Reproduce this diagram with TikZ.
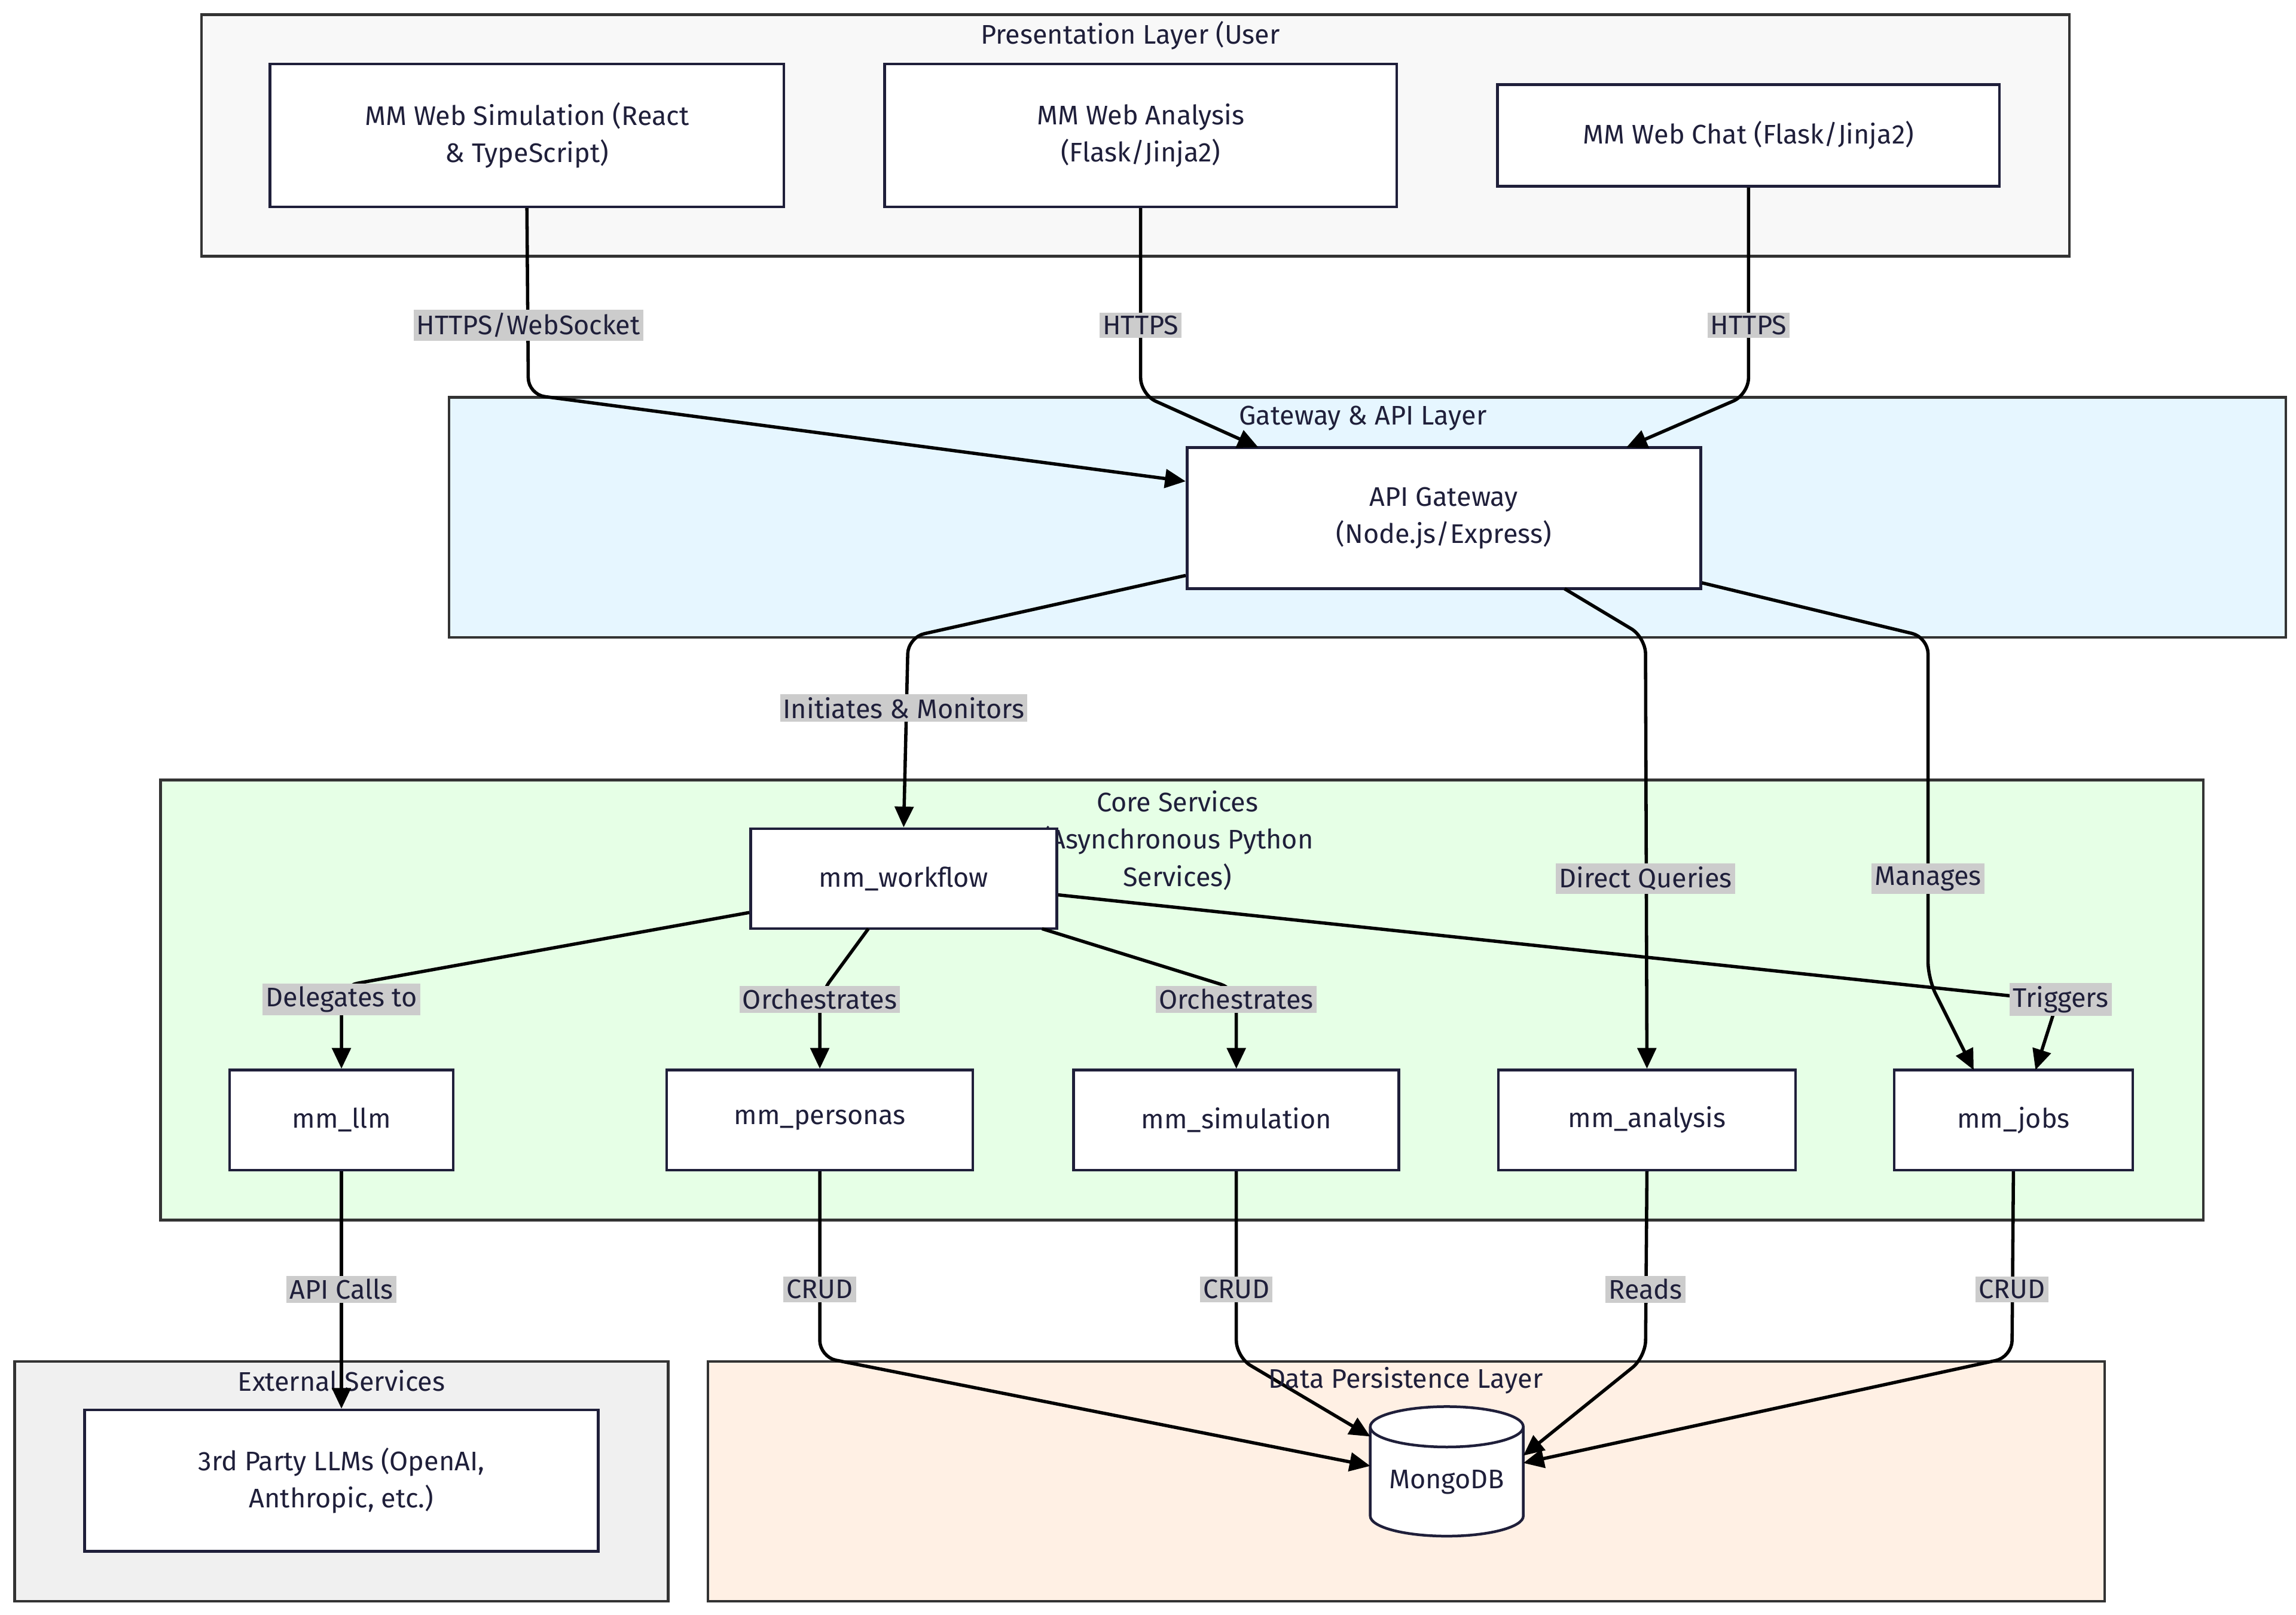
\documentclass[tikz,border=0pt]{standalone}
\usepackage{fontspec}
\setmainfont{Fira Sans}
\usetikzlibrary{positioning,shapes.geometric,arrows.meta,calc}
\definecolor{inkdark}{HTML}{1F1F3A}
\definecolor{presfill}{HTML}{F8F8F8}
\definecolor{gatefill}{HTML}{E6F6FF}
\definecolor{corefill}{HTML}{E6FFE6}
\definecolor{extfill}{HTML}{F0F0F0}
\definecolor{datafill}{HTML}{FFF0E4}
\definecolor{lblfill}{HTML}{CCCCCC}

\begin{document}
\begin{tikzpicture}[
      x=0.025cm, y=-0.025cm,
      every node/.style={font=\fontsize{13}{18}\selectfont, text=inkdark},
      layer/.style={draw=black!80, line width=1.3pt},
      svc/.style={
        rectangle,
        draw=inkdark,
        fill=white,
        line width=1.3pt,
        align=center,
        inner sep=0pt,
      },
      link/.style={-{Triangle[length=10pt,width=9pt]}, line width=1.6pt, black, rounded corners=8pt},
      tag/.style={fill=lblfill, inner sep=1.5pt},
      ]
      \useasboundingbox (0,0) rectangle (1560,1097);
      % layers
      \draw[layer, fill=presfill] (137,10) rectangle (1406,174);
      \node at (768,24) {Presentation Layer (User};
      \draw[layer, fill=gatefill] (305,270) rectangle (1553,433);
      \draw[layer, fill=corefill] (109,530) rectangle (1497,829);
      \node[align=center] at (800,571) {Core Services\\(Asynchronous Python\\Services)};
      \draw[layer, fill=extfill] (10,925) rectangle (454,1088);
      \node at (232,938) {External Services};
      \draw[layer, fill=datafill] (481,925) rectangle (1430,1088);
      % services
      \node[svc, minimum width=349*0.025cm, minimum height=97*0.025cm] (websim) at (358,92) {MM Web Simulation (React\\\& TypeScript)};
      \node[svc, minimum width=348*0.025cm, minimum height=97*0.025cm] (webana) at (775,92) {MM Web Analysis\\(Flask/Jinja2)};
      \node[svc, minimum width=341*0.025cm, minimum height=69*0.025cm] (webchat) at (1188,92) {MM Web Chat (Flask/Jinja2)};
      \node[svc, minimum width=349*0.025cm, minimum height=96*0.025cm] (gateway) at (981,352) {API Gateway\\(Node.js/Express)};
      \node[svc, minimum width=208*0.025cm, minimum height=68*0.025cm] (workflow) at (614,597) {mm\_workflow};
      \node[svc, minimum width=152*0.025cm, minimum height=68*0.025cm] (llm) at (232,761) {mm\_llm};
      \node[svc, minimum width=208*0.025cm, minimum height=68*0.025cm] (personas) at (557,761) {mm\_personas};
      \node[svc, minimum width=221*0.025cm, minimum height=68*0.025cm] (simulation) at (840,761) {mm\_simulation};
      \node[svc, minimum width=202*0.025cm, minimum height=68*0.025cm] (analysis) at (1119,761) {mm\_analysis};
      \node[svc, minimum width=162*0.025cm, minimum height=68*0.025cm] (jobs) at (1368,761) {mm\_jobs};
      \node[svc, minimum width=349*0.025cm, minimum height=96*0.025cm] (llmext) at (232,1006) {3rd Party LLMs (OpenAI,\\Anthropic, etc.)};
      \node[svc, cylinder, shape border rotate=90, aspect=0.35, minimum width=104*0.025cm, minimum height=88*0.025cm] (mongo) at (983,1007) {MongoDB};
      % connectors
      \draw[link] (websim.south) -- (359,268) -- (gateway.west |- 0,327);
      \draw[link] (webana.south) -- (775,268) -- (855,304);
      \draw[link] (webchat.south) -- (1188,268) -- (1105,304);
      \draw[link] (gateway.west |- 0,391) -- (617,433) -- (workflow.north);
      \draw[link] (1063,400) -- (1118,433) -- (analysis.north);
      \draw[link] (gateway.east |- 0,396) -- (1310,433) -- (1310,665) -- (1341,727);
      \draw[link] (workflow.west |- 0,620) -- (232,670) -- (llm.north);
      \draw[link] (590,631) -- (557,676) -- (personas.north);
      \draw[link] (708,631) -- (840,672) -- (simulation.north);
      \draw[link] (workflow.east |- 0,608) -- (1398,680) -- (1383,727);
      \draw[link] (llm.south) -- (llmext.north);
      \draw[link] (personas.south) -- (557,922) -- (931,996);
      \draw[link] (simulation.south) -- (840,922) -- (931,976);
      \draw[link] (analysis.south) -- (1118,922) -- (1035,989);
      \draw[link] (jobs.south) -- (1367,922) -- (1035,994);
      % layer titles over lines
      \node at (926,284) {Gateway \& API Layer};
      \node at (955,938) {Data Persistence Layer};
      % connector labels
      \node[tag] at (359,221) {HTTPS/WebSocket};
      \node[tag] at (775,221) {HTTPS};
      \node[tag] at (1188,221) {HTTPS};
      \node[tag] at (614,481) {Initiates \& Monitors};
      \node[tag] at (1118,597) {Direct Queries};
      \node[tag] at (1310,597) {Manages};
      \node[tag] at (232,679) {Delegates to};
      \node[tag] at (557,679) {Orchestrates};
      \node[tag] at (840,679) {Orchestrates};
      \node[tag] at (1400,679) {Triggers};
      \node[tag] at (232,876) {API Calls};
      \node[tag] at (557,876) {CRUD};
      \node[tag] at (840,876) {CRUD};
      \node[tag] at (1118,876) {Reads};
      \node[tag] at (1367,876) {CRUD};
\end{tikzpicture}
\end{document}
